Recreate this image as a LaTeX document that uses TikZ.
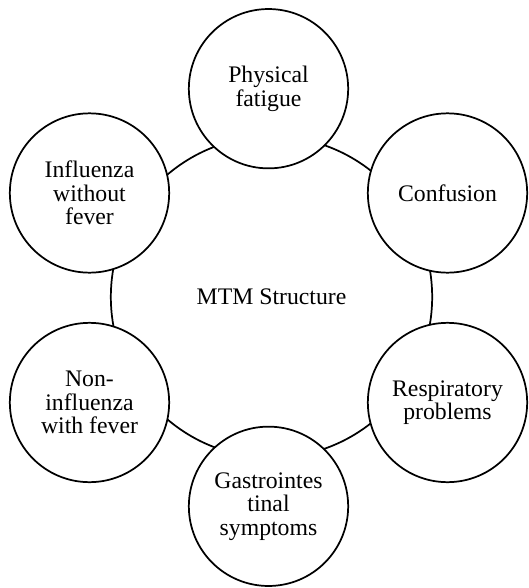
\documentclass[tikz,border=0pt]{standalone}
\usepackage{fontspec}
\setmainfont{Liberation Serif}
\usepackage{tikz}
\usetikzlibrary{positioning,shapes.geometric}

\begin{document}
\begin{tikzpicture}[x=0.75pt,y=0.75pt,yscale=-1,xscale=1,
        symptom/.style={draw, circle, line width=1.3pt, fill=white, inner sep=0pt,
            minimum size=119.5pt, align=center, font=\fontsize{17.8}{17.6}\selectfont}]
        \useasboundingbox (0,0) rectangle (528,588);
        %Shape: Circle [id:mtm]
        \node [draw, circle, line width=1.3pt, inner sep=0pt, minimum size=241pt,
            font=\fontsize{17.8}{17.6}\selectfont] (mtm) at (271.5,297) {MTM Structure};
        %Shape: Circle [id:fatigue]
        \node [symptom] (fatigue) at (268.5,88.7) {Physical\\fatigue};
        %Shape: Circle [id:confusion]
        \node [symptom] (confusion) at (447.5,193) {Confusion};
        %Shape: Circle [id:respiratory]
        \node [symptom] (respiratory) at (447.5,402.5) {Respiratory\\problems};
        %Shape: Circle [id:gastro]
        \node [symptom] (gastro) at (268.5,506.3) {Gastrointes\\tinal\\symptoms};
        %Shape: Circle [id:nonflu]
        \node [symptom] (nonflu) at (89.5,402.5) {Non-\\influenza\\with fever};
        %Shape: Circle [id:flu]
        \node [symptom] (flu) at (89.5,193) {Influenza\\without\\fever};
        \end{tikzpicture}
\end{document}
